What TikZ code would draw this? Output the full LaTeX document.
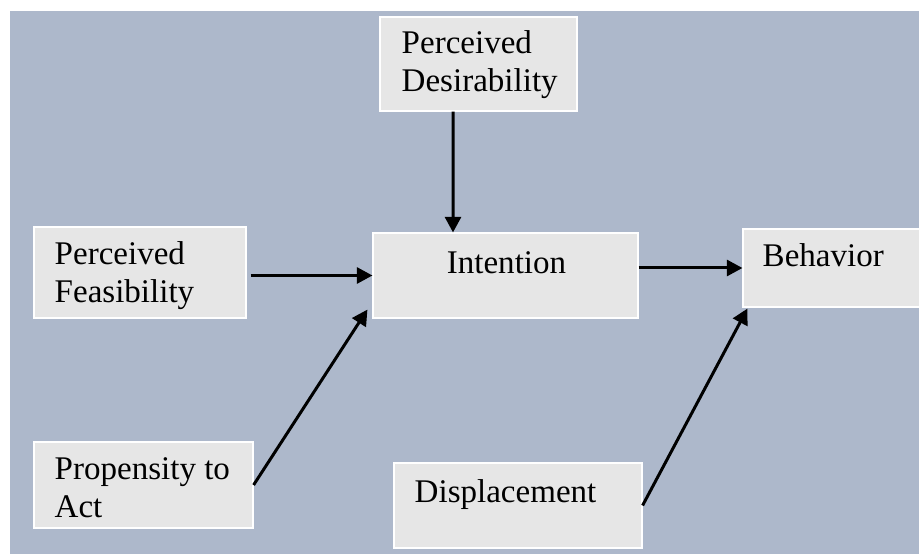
\documentclass[tikz,border=0pt]{standalone}
\usepackage{fontspec}
\setmainfont{Liberation Serif}
\usetikzlibrary{arrows.meta}
\definecolor{slate}{RGB}{173,184,203}
\definecolor{boxgray}{RGB}{230,230,230}
\begin{document}
\begin{tikzpicture}[
		box/.style={draw=white, line width=0.8pt, fill=boxgray, inner sep=0pt},
		txt/.style={inner sep=0pt, align=left, anchor=base west, font=\fontsize{23.5pt}{26.9pt}\selectfont},
		arr/.style={-{Triangle[length=0.39cm,width=0.4cm]}, line width=0.075cm}]
				\useasboundingbox (0,0) rectangle (22.975,13.85);
				\fill[slate] (0.25,0) rectangle (22.975,13.575);
				\draw (11.9625,12.25) node[box, minimum width=4.925cm, minimum height=2.35cm] (desire) {};
				\draw (3.5,7.0375) node[box, minimum width=5.3cm, minimum height=2.275cm] (feas) {};
				\draw (12.6375,6.9625) node[box, minimum width=6.625cm, minimum height=2.125cm] (intent) {};
				\draw (20.7875,7.15) node[box, minimum width=4.425cm, minimum height=1.95cm] (behav) {};
				\draw (3.5875,1.725) node[box, minimum width=5.475cm, minimum height=2.15cm] (prop) {};
				\draw (12.95,1.2125) node[box, minimum width=6.2cm, minimum height=2.125cm] (disp) {};
				\draw ([xshift=0.55cm,yshift=-1.875cm]desire.north west) node[txt] (desire-text) {Perceived\\Desirability};
				\draw ([xshift=0.525cm,yshift=-1.9cm]feas.north west) node[txt] (feas-text) {Perceived\\Feasibility};
				\draw ([xshift=0.025cm,yshift=-1.025cm]intent.north) node[txt, anchor=base] (intent-text) {Intention};
				\draw ([xshift=0.5cm,yshift=-0.95cm]behav.north west) node[txt] (behav-text) {Behavior};
				\draw ([xshift=0.525cm,yshift=-1.9cm]prop.north west) node[txt] (prop-text) {Propensity to\\Act};
				\draw ([xshift=0.525cm,yshift=-1cm]disp.north west) node[txt] (disp-text) {Displacement};
				\draw[arr] ([xshift=-0.6375cm]desire.south) -- ([xshift=-1.3125cm]intent.north);
				\draw[arr] ([xshift=0.1cm]feas.east |- intent.west) -- (intent.west);
				\draw[arr] (intent.east |- behav.west) -- (behav.west);
				\draw[arr] (prop.east) -- ([xshift=-0.125cm,yshift=0.225cm]intent.south west);
				\draw[arr] (disp.east) -- ([xshift=0.125cm,yshift=-0.025cm]behav.south west);
			\end{tikzpicture}
\end{document}
